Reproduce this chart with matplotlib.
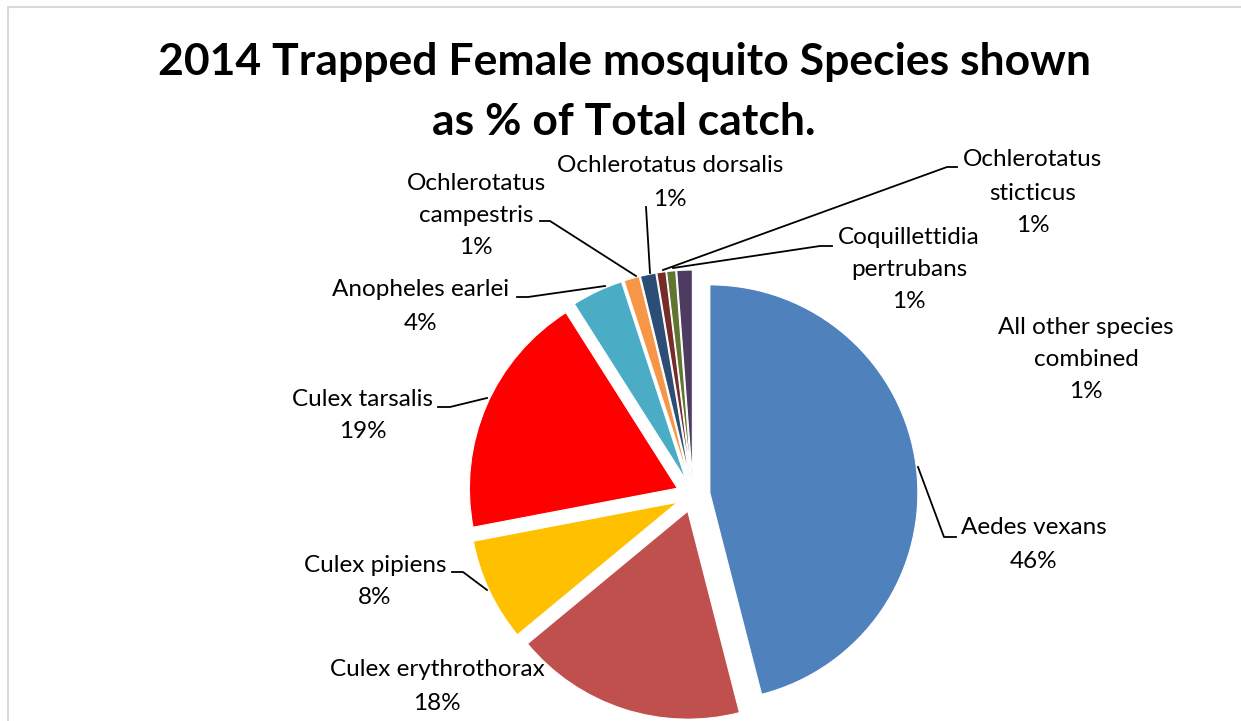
import matplotlib
matplotlib.use("Agg")
import matplotlib.pyplot as plt

W, H = 1241, 721

species = ["Aedes vexans", "Culex erythrothorax", "Culex pipiens", "Culex tarsalis",
           "Anopheles earlei", "Ochlerotatus campestris", "Ochlerotatus dorsalis",
           "Ochlerotatus sticticus", "Coquillettidia pertrubans", "All other species combined"]
values = [46, 18, 8, 19, 4, 1.2, 1.2, 0.7, 0.7, 1.2]
colors = ["#4F81BD", "#C0504D", "#FFC000", "#FF0000", "#4BACC6",
          "#F79646", "#2C4D75", "#772C2A", "#5F7530", "#4D3B62"]
label_lines = [["Aedes vexans"], ["Culex erythrothorax"], ["Culex pipiens"], ["Culex tarsalis"],
               ["Anopheles earlei"], ["Ochlerotatus", "campestris"], ["Ochlerotatus dorsalis"],
               ["Ochlerotatus", "sticticus"], ["Coquillettidia", "pertrubans"],
               ["All other species", "combined"]]
title_lines = ["2014 Trapped Female mosquito Species shown", "as % of Total catch."]

plt.rcParams['font.family'] = ['Lato', 'DejaVu Sans']

fig = plt.figure(figsize=(W / 100, H / 100), dpi=100)
ax = fig.add_axes([0, 0, 1, 1])

def Y(y):
    return H - y

cx, cy, r = 693, 495, 208
explode_px = 17  # matplotlib explode is in data units
ax.pie(values, explode=[explode_px] * len(values), startangle=90, counterclock=False,
       colors=colors, center=(cx, Y(cy)), radius=r,
       wedgeprops=dict(linewidth=0.8, edgecolor="white"))

ax.set_xlim(0, W)
ax.set_ylim(0, H)
ax.set_aspect('auto')
ax.axis('off')

# chart frame
ax.plot([8, 8, W + 5], [Y(H + 5), Y(7), Y(7)], color="#d9d9d9", lw=1.5, solid_capstyle='butt')

# title
ax.text(625, Y(62), title_lines[0], ha='center', va='center', fontsize=32, fontweight='bold')
ax.text(624, Y(122), title_lines[1], ha='center', va='center', fontsize=32, fontweight='bold')

# data labels: (center x, first line y) in pixel coordinates
label_pos = [(1034, 528), (437, 670), (375, 566), (363, 400), (421, 290),
             (476, 183), (670, 166), (1033, 160), (909, 238), (1086, 327)]
spacing = [34, 33, 32, 32, 33, 32, 33, 33, 32, 32]
for lines, v, (x, y), sp in zip(label_lines, values, label_pos, spacing):
    allines = lines + [f"{round(v):d}%"]
    for k, t in enumerate(allines):
        ax.text(x, Y(y + k * sp), t, ha='center', va='center', fontsize=17.5, color='black')

# leader lines (pixel coordinates)
leaders = [
    [(918, 467), (944, 537), (956, 537)],
    [(452, 572), (463, 572), (487, 590)],
    [(438, 407), (450, 407), (487, 398)],
    [(517, 297), (528, 297), (605, 286)],
    [(540, 221), (550, 221), (636, 276)],
    [(646, 207), (650, 273)],
    [(957, 167), (947, 167), (663, 270)],
    [(832, 246), (820, 246), (673, 268)],
]
for pts in leaders:
    xs = [p[0] for p in pts]
    ys = [Y(p[1]) for p in pts]
    ax.plot(xs, ys, color='black', lw=1.3)

fig.savefig("out.png", dpi=100)
